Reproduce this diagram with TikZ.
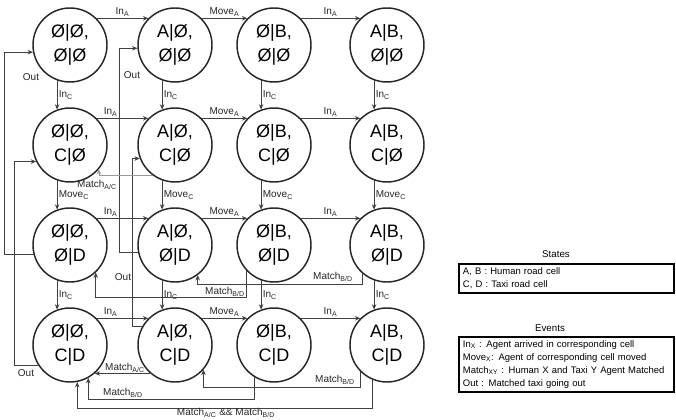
\documentclass[tikz,border=0pt]{standalone}
\usepackage{fontspec}
\setmainfont{Liberation Sans}
\usetikzlibrary{arrows.meta,calc}
\newcommand{\sbs}[1]{\textsubscript{#1}}
\tikzset{
  st/.style={circle,draw=black!85,line width=1.1pt,minimum size=55.5pt,
             inner sep=0pt,align=center,font=\fontsize{13.5}{18}\selectfont},
  arr/.style={-{Stealth[length=4pt,width=3.4pt]},line width=0.6pt,draw=#1},
  arr/.default=black!75,
  lbl/.style={font=\fontsize{7.5}{8}\selectfont,inner sep=1pt,text=black!85},
  legtitle/.style={font=\fontsize{7.3}{8}\selectfont,inner sep=0pt},
  legbox/.style={draw=black,line width=1.4pt,anchor=north west,align=left,
                 inner xsep=3pt,inner ysep=2pt,minimum width=161pt,
                 text width=155pt,font=\fontsize{7.1}{9.75}\selectfont},
}

\begin{document}
\begin{tikzpicture}[x=0.75pt,y=-0.75pt]
  \useasboundingbox (0,0) rectangle (676,420);

  % states grid
  \foreach \name/\x/\y/\txt in {
    n11/70/45/{Ø|Ø,\\Ø|Ø}, n12/175/45/{A|Ø,\\Ø|Ø}, n13/274/45/{Ø|B,\\Ø|Ø}, n14/387/45/{A|B,\\Ø|Ø},
    n21/70/145/{Ø|Ø,\\C|Ø}, n22/175/145/{A|Ø,\\C|Ø}, n23/274/145/{Ø|B,\\C|Ø}, n24/387/145/{A|B,\\C|Ø},
    n31/70/245/{Ø|Ø,\\Ø|D}, n32/175/245/{A|Ø,\\Ø|D}, n33/274/245/{Ø|B,\\Ø|D}, n34/387/245/{A|B,\\Ø|D},
    n41/70/345/{Ø|Ø,\\C|D}, n42/175/345/{A|Ø,\\C|D}, n43/274/345/{Ø|B,\\C|D}, n44/387/345/{A|B,\\C|D}}{
    \node[st] (\name) at (\x,\y) {\txt};
  }

  % arrivals and moves
  \foreach \r/\p in {1/0.5,2/0.27,3/0.27,4/0.27}{
    \draw[arr] (n\r1.45) -- node[lbl,above,pos=\p]{In\sbs{A}} (n\r2.135);
    \draw[arr] (n\r2.45) -- node[lbl,above]{Move\sbs{A}} (n\r3.135);
    \draw[arr] (n\r3.45) -- node[lbl,above]{In\sbs{A}} (n\r4.135);
  }
  \foreach \c in {1,2,3,4}{
    \draw[arr] (n1\c.250) -- node[lbl,right]{In\sbs{C}} (n2\c.110);
    \draw[arr] (n2\c.250) -- node[lbl,right]{Move\sbs{C}} (n3\c.110);
    \draw[arr] (n3\c.250) -- node[lbl,right]{In\sbs{C}} (n4\c.110);
  }

  % taxi going out
  \draw[arr] (n31.195) -- ++(-29,0) |- (n11.191);
  \draw[arr] (n41.213) -- ++(-24,0) |- (n21.206);
  \draw[arr] (n32.191) -- ++(-19,0) |- (n12.185);
  \draw[arr] (n42.151) -- ++(-10,0) |- (n22.201);
  \node[lbl] (out1) at (31,77)  {Out};
  \node[lbl] (out2) at (132,75) {Out};
  \node[lbl] (out3) at (123,277) {Out};
  \node[lbl] (out4) at (26,373) {Out};

  % matches
  \draw[arr=black!40] (n22.234) -| (n21.-40);
  \draw[arr] (n34.229) -- ++(0,11) -| (n32.-53);
  \draw[arr] (n33.223) -- ++(0,27) -| (n31.-47);
  \draw[arr] (n42.229) -- (n41.-49);
  \draw[arr] (n44.225) -- ++(0,16) -| (n42.-41);
  \draw[arr] (n43.239) -- ++(0,22) -| (n41.-61);
  \draw[arr] (n44.248) -- ++(0,28) -| (n41.-79);
  \node[lbl] (mac1) at (97,185)  {Match\sbs{A/C}};
  \node[lbl] (mbd1) at (333,277) {Match\sbs{B/D}};
  \node[lbl] (mbd2) at (225,292) {Match\sbs{B/D}};
  \node[lbl] (mac2) at (125,368) {Match\sbs{A/C}};
  \node[lbl] (mbd3) at (335,380) {Match\sbs{B/D}};
  \node[lbl] (mbd4) at (123,393) {Match\sbs{B/D}};
  \node[lbl] (mall) at (226,413) {Match\sbs{A/C} \&\& Match\sbs{B/D}};

  % legend
  \node[legtitle] (sttl) at (556,254) {States};
  \node[legbox,minimum height=21.75pt] (states) at (458,263)
    {A, B : Human road cell\\C, D : Taxi road cell};
  \node[legtitle] (ettl) at (550,328) {Events};
  \node[legbox,minimum height=41pt] (events) at (458,336)
    {In\sbs{X} : Agent arrived in corresponding cell\\
     Move\sbs{X}: Agent of corresponding cell moved\\
     Match\sbs{XY} : Human X and Taxi Y Agent Matched\\
     Out : Matched taxi going out};
\end{tikzpicture}
\end{document}
